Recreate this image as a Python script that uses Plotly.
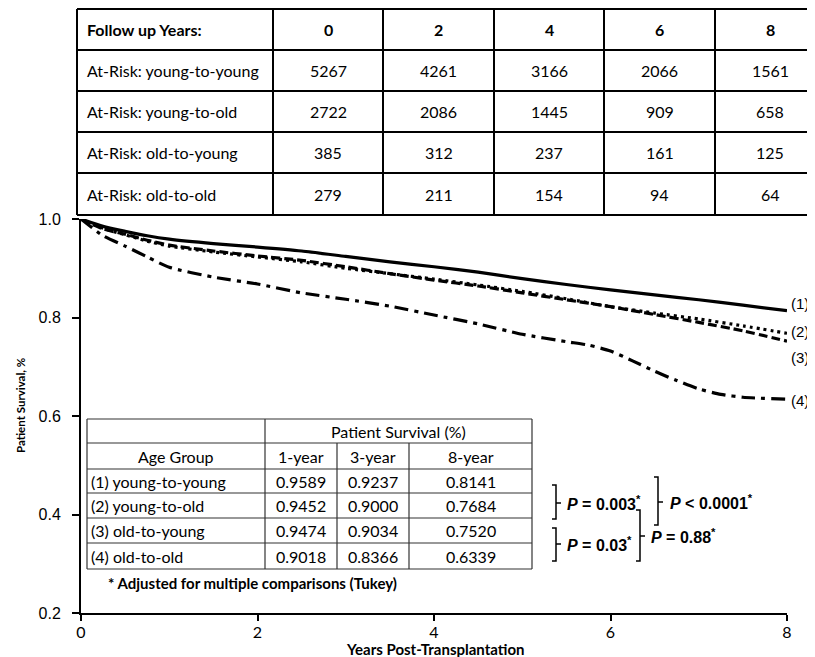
import plotly.graph_objects as go

# ---------------- data ----------------
follow_years = ["0", "2", "4", "6", "8"]
risk_labels = ["At-Risk: young-to-young", "At-Risk: young-to-old",
               "At-Risk: old-to-young", "At-Risk: old-to-old"]
at_risk_yy = [5267, 4261, 3166, 2066, 1561]
at_risk_yo = [2722, 2086, 1445, 909, 658]
at_risk_oy = [385, 312, 237, 161, 125]
at_risk_oo = [279, 211, 154, 94, 64]

t = [0, 0.25, 0.5, 0.75, 1.0, 1.5, 2.0, 2.5, 3.0, 3.5, 4.0, 4.5, 5.0, 5.5, 6.0, 6.5, 7.0, 7.5, 8.0]
surv_yy = [1.0, 0.985, 0.975, 0.966, 0.959, 0.950, 0.943, 0.935, 0.924, 0.913, 0.903, 0.892, 0.879, 0.867, 0.856, 0.846, 0.836, 0.825, 0.814]
surv_yo = [1.0, 0.981, 0.968, 0.955, 0.945, 0.933, 0.923, 0.913, 0.900, 0.889, 0.878, 0.866, 0.853, 0.838, 0.822, 0.809, 0.797, 0.783, 0.768]
surv_oy = [1.0, 0.980, 0.969, 0.957, 0.947, 0.935, 0.925, 0.916, 0.903, 0.889, 0.876, 0.864, 0.850, 0.836, 0.822, 0.806, 0.790, 0.773, 0.752]
t_oo = [0, 0.25, 0.5, 0.75, 1.0, 1.5, 2.0, 2.5, 3.0, 3.5, 4.0, 4.5, 5.0, 5.5, 5.75, 6.0, 6.25, 6.5, 6.75, 7.0, 7.25, 7.5, 8.0]
surv_oo = [1.0, 0.966, 0.945, 0.923, 0.902, 0.882, 0.868, 0.850, 0.837, 0.823, 0.805, 0.787, 0.766, 0.751, 0.744, 0.732, 0.712, 0.691, 0.672, 0.655, 0.644, 0.638, 0.634]
curve_labels = ["(1)", "(2)", "(3)", "(4)"]

age_groups = ["(1) young-to-young", "(2) young-to-old", "(3) old-to-young", "(4) old-to-old"]
surv_cols = ["1-year", "3-year", "8-year"]
surv_1yr = ["0.9589", "0.9452", "0.9474", "0.9018"]
surv_3yr = ["0.9237", "0.9000", "0.9034", "0.8366"]
surv_8yr = ["0.8141", "0.7684", "0.7520", "0.6339"]

p_texts = ["<i>P</i> = 0.003<sup>*</sup>", "<i>P</i> = 0.03<sup>*</sup>",
           "<i>P</i> < 0.0001<sup>*</sup>", "<i>P</i> = 0.88<sup>*</sup>"]

# ---------------- layout geometry (reference pixels) ----------------
OFF = 8                      # page body margin
W, H = 815, 657 - OFF
L, R, T, B = 81, 787, 219, 613


def px(x):
    return (x - L) / (R - L)


def py(y):
    return (B - y) / (B - T)


fig = go.Figure()

styles = [dict(dash="solid", width=3.2),
          dict(dash="3px,4px", width=3.2),
          dict(dash="9px,4px", width=3.2),
          dict(dash="14px,6px,4px,6px", width=3.2)]
for tt, s, st in zip([t, t, t, t_oo], [surv_yy, surv_yo, surv_oy, surv_oo], styles):
    fig.add_trace(go.Scatter(x=tt, y=s, mode="lines",
                             line=dict(color="black", shape="spline", smoothing=0.6, **st),
                             showlegend=False, hoverinfo="skip"))

shapes = []
annotations = []

# curve end labels
label_y = [303, 331, 357, 400]
for lab, yy in zip(curve_labels, label_y):
    annotations.append(dict(x=px(789), y=py(yy), xref="paper", yref="paper",
                            text=lab, showarrow=False, xanchor="left", yanchor="middle",
                            font=dict(family="Liberation Sans, Arial", size=15, color="black")))

# ---------------- top at-risk table ----------------
tcols = [77, 273, 383, 494, 604, 715, 825]
trows = [9, 50, 91, 132, 173, 215]
for xline in tcols[:-1] + [813]:
    shapes.append(dict(type="line", xref="paper", yref="paper",
                       x0=px(xline), x1=px(xline), y0=py(trows[0]), y1=py(trows[-1]),
                       line=dict(color="black", width=2)))
for yline in trows:
    shapes.append(dict(type="line", xref="paper", yref="paper",
                       x0=px(tcols[0]), x1=px(814), y0=py(yline), y1=py(yline),
                       line=dict(color="black", width=2)))

tfont = dict(family="Lato, Calibri, sans-serif", size=16, color="black")
row_texts = [["<b>Follow up Years:</b>"] + ["<b>%s</b>" % v for v in follow_years]]
for lab, vals in zip(risk_labels, [at_risk_yy, at_risk_yo, at_risk_oy, at_risk_oo]):
    row_texts.append([lab] + [str(v) for v in vals])
for ri, row in enumerate(row_texts):
    yc = (trows[ri] + trows[ri + 1]) / 2
    for ci, txt in enumerate(row):
        if ci == 0:
            annotations.append(dict(x=px(tcols[0] + 8), y=py(yc), xref="paper", yref="paper",
                                    text=txt, showarrow=False, xanchor="left", yanchor="middle",
                                    font=tfont))
        else:
            xc = (tcols[ci] + tcols[ci + 1]) / 2
            annotations.append(dict(x=px(xc), y=py(yc), xref="paper", yref="paper",
                                    text=txt, showarrow=False, xanchor="center", yanchor="middle",
                                    font=tfont))

# ---------------- inner survival table ----------------
icols = [87, 265, 337, 409, 532]
irows = [419, 443, 469, 493, 518, 543, 569]
ilw = dict(color="#333333", width=1.2)
for yline in irows:
    shapes.append(dict(type="line", xref="paper", yref="paper",
                       x0=px(icols[0]), x1=px(icols[-1]), y0=py(yline), y1=py(yline), line=ilw))
for xline in [icols[0], icols[1], icols[-1]]:
    shapes.append(dict(type="line", xref="paper", yref="paper",
                       x0=px(xline), x1=px(xline), y0=py(irows[0]), y1=py(irows[-1]), line=ilw))
for xline in icols[2:4]:
    shapes.append(dict(type="line", xref="paper", yref="paper",
                       x0=px(xline), x1=px(xline), y0=py(irows[1]), y1=py(irows[-1]), line=ilw))

ifont = dict(family="Lato, Calibri, sans-serif", size=16, color="black")
annotations.append(dict(x=px((icols[1] + icols[-1]) / 2), y=py((irows[0] + irows[1]) / 2),
                        xref="paper", yref="paper", text="Patient Survival (%)", showarrow=False,
                        xanchor="center", yanchor="middle", font=ifont))
annotations.append(dict(x=px((icols[0] + icols[1]) / 2), y=py((irows[1] + irows[2]) / 2),
                        xref="paper", yref="paper", text="Age Group", showarrow=False,
                        xanchor="center", yanchor="middle", font=ifont))
for ci, c in enumerate(surv_cols):
    annotations.append(dict(x=px((icols[ci + 1] + icols[ci + 2]) / 2), y=py((irows[1] + irows[2]) / 2),
                            xref="paper", yref="paper", text=c, showarrow=False,
                            xanchor="center", yanchor="middle", font=ifont))
for ri, g in enumerate(age_groups):
    yc = (irows[ri + 2] + irows[ri + 3]) / 2
    annotations.append(dict(x=px(icols[0] + 2), y=py(yc), xref="paper", yref="paper", text=g,
                            showarrow=False, xanchor="left", yanchor="middle", font=ifont))
    for ci, col in enumerate([surv_1yr, surv_3yr, surv_8yr]):
        annotations.append(dict(x=px((icols[ci + 1] + icols[ci + 2]) / 2), y=py(yc),
                                xref="paper", yref="paper", text=col[ri], showarrow=False,
                                xanchor="center", yanchor="middle", font=ifont))
annotations.append(dict(x=px(106), y=py(583), xref="paper", yref="paper",
                        text="<b>* Adjusted for multiple comparisons (Tukey)</b>", showarrow=False,
                        xanchor="left", yanchor="middle",
                        font=dict(family="Lato, Calibri, sans-serif", size=15, color="black")))

# ---------------- P-value brackets ----------------
# (x_vertical, y_top, y_bottom, y_mid)
brackets = [(556, 485, 519, 503), (556, 528, 561, 544), (658, 477, 525, 502), (640, 510, 561, 536)]
text_x = [565, 565, 668, 649]
for (bx, yt, yb, ym), tx, ptxt in zip(brackets, text_x, p_texts):
    path = "M %f %f L %f %f L %f %f L %f %f" % (px(bx - 4), py(yt), px(bx), py(yt),
                                                 px(bx), py(yb), px(bx - 4), py(yb))
    shapes.append(dict(type="path", xref="paper", yref="paper", path=path,
                       line=dict(color="black", width=1.5)))
    shapes.append(dict(type="line", xref="paper", yref="paper",
                       x0=px(bx), x1=px(bx + 5), y0=py(ym), y1=py(ym),
                       line=dict(color="black", width=1.5)))
    annotations.append(dict(x=px(tx), y=py(ym), xref="paper", yref="paper",
                            text="<b>%s</b>" % ptxt, showarrow=False,
                            xanchor="left", yanchor="middle",
                            font=dict(family="Liberation Sans, Arial", size=16, color="black")))

# axis titles
annotations.append(dict(x=px(20), y=py(406), xref="paper", yref="paper",
                        text="<b>Patient Survival, %</b>", showarrow=False, textangle=-90,
                        xanchor="center", yanchor="middle",
                        font=dict(family="Lato, Calibri, sans-serif", size=11.5, color="black")))
annotations.append(dict(x=px(435), y=py(649), xref="paper", yref="paper",
                        text="<b>Years Post-Transplantation</b>", showarrow=False,
                        xanchor="center", yanchor="middle",
                        font=dict(family="Lato, Calibri, sans-serif", size=15, color="black")))

fig.update_layout(
    width=W, height=H,
    margin=dict(l=L - OFF, r=W - (R - OFF), t=T - OFF, b=H - (B - OFF), pad=0),
    paper_bgcolor="white", plot_bgcolor="white",
    showlegend=False,
    shapes=shapes, annotations=annotations,
    xaxis=dict(range=[0, 8], tickvals=[0, 2, 4, 6, 8], ticktext=follow_years,
               showgrid=False, zeroline=False, showline=True, linecolor="black", linewidth=2,
               ticks="outside", ticklen=6, tickwidth=2, tickcolor="black", ticklabelstandoff=-2,
               tickfont=dict(family="Lato, Calibri, sans-serif", size=16, color="black")),
    yaxis=dict(range=[0.2, 1.0], tickvals=[0.2, 0.4, 0.6, 0.8, 1.0],
               ticktext=["0.2", "0.4", "0.6", "0.8", "1.0"],
               showgrid=False, zeroline=False, showline=True, linecolor="black", linewidth=2,
               ticks="outside", ticklen=7, tickwidth=2, tickcolor="black", ticklabelstandoff=8,
               tickfont=dict(family="Liberation Sans, Arial", size=16, color="black")),
)

fig.write_html("out.html")
